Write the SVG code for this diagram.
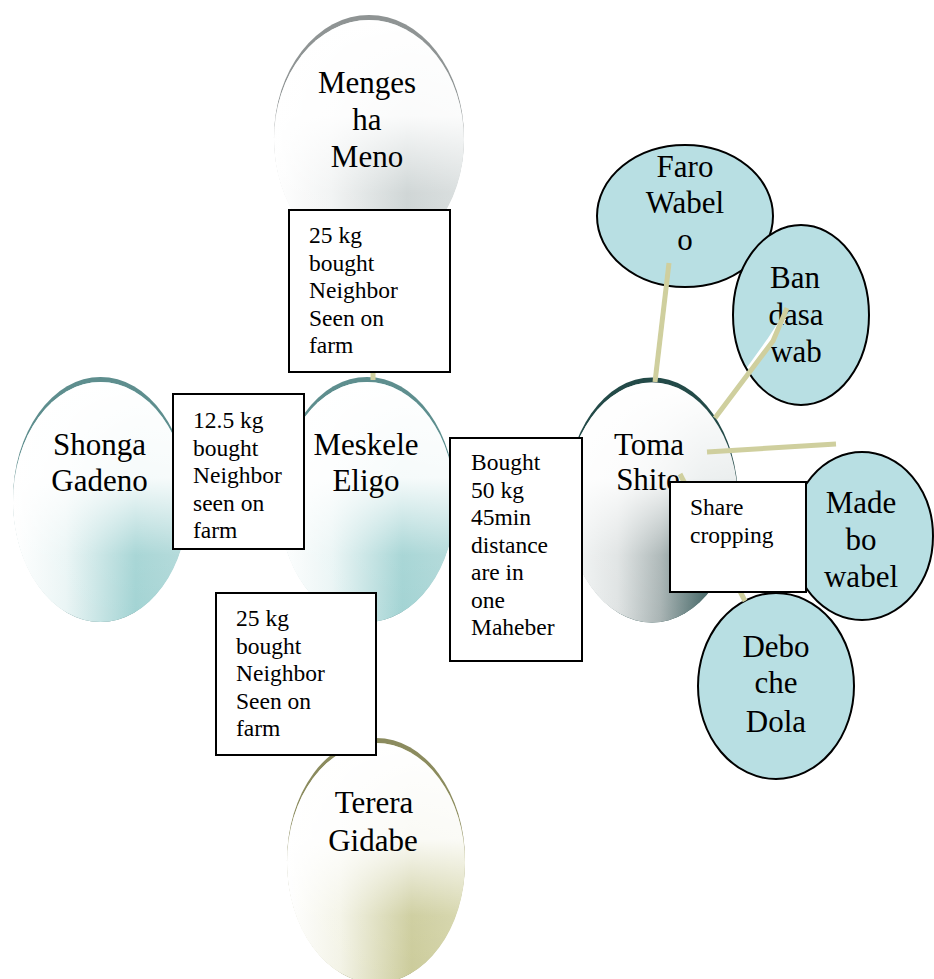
<svg xmlns="http://www.w3.org/2000/svg" width="934" height="979" viewBox="0 0 934 979">
<style>
.lbl{font-family:"Liberation Serif","Times New Roman",serif;font-size:31px;fill:#000;text-anchor:middle}
.box rect{fill:#fff;stroke:#000;stroke-width:2}
.box text{font-family:"Liberation Serif","Times New Roman",serif;font-size:23.5px;fill:#000}
.circ{fill:#b8dfe3;stroke:#000;stroke-width:2}
.con{stroke:#cfcf9e;stroke-width:5;fill:none;stroke-linecap:butt}
.veil{fill:url(#gVeil)}
</style>
<defs>
<linearGradient id="gTeal" x1="0" y1="0" x2="1" y2="0">
<stop offset="0" stop-color="#ffffff"/><stop offset="0.3" stop-color="#eaf5f5"/><stop offset="0.7" stop-color="#a2d3d3"/><stop offset="1" stop-color="#b0d8d8"/>
</linearGradient>
<linearGradient id="gGray" x1="0" y1="0" x2="1" y2="0">
<stop offset="0" stop-color="#ffffff"/><stop offset="0.3" stop-color="#f1f3f3"/><stop offset="0.7" stop-color="#ccd3d3"/><stop offset="1" stop-color="#d8dddd"/>
</linearGradient>
<linearGradient id="gOlive" x1="0" y1="0" x2="1" y2="0">
<stop offset="0" stop-color="#ffffff"/><stop offset="0.3" stop-color="#f3f3e6"/><stop offset="0.7" stop-color="#cbcb9a"/><stop offset="1" stop-color="#d5d5aa"/>
</linearGradient>
<linearGradient id="gDark" x1="0" y1="0" x2="1" y2="0">
<stop offset="0" stop-color="#f6f8f8"/><stop offset="0.3" stop-color="#dfe3e3"/><stop offset="0.55" stop-color="#a9b4b4"/><stop offset="0.8" stop-color="#4c6c6c"/><stop offset="1" stop-color="#365858"/>
</linearGradient>
<linearGradient id="gVeil" x1="0" y1="0" x2="0" y2="1">
<stop offset="0" stop-color="#ffffff" stop-opacity="1"/><stop offset="0.4" stop-color="#ffffff" stop-opacity="0.9"/><stop offset="0.72" stop-color="#ffffff" stop-opacity="0.08"/><stop offset="1" stop-color="#ffffff" stop-opacity="0"/>
</linearGradient>
</defs>

<g id="menges">
<ellipse cx="369" cy="137.5" rx="95" ry="122.5" fill="#8f9494"/>
<ellipse cx="369" cy="140" rx="95" ry="120" fill="url(#gGray)"/>
<ellipse class="veil" cx="369" cy="140" rx="95" ry="120"/>
<text class="lbl" x="367" y="93">Menges</text>
<text class="lbl" x="367" y="130">ha</text>
<text class="lbl" x="367" y="167">Meno</text>
</g>
<g id="shonga">
<ellipse cx="100.5" cy="499.5" rx="87.5" ry="122.5" fill="#5e8e8e"/>
<ellipse cx="100.5" cy="502" rx="87.5" ry="120" fill="url(#gTeal)"/>
<ellipse class="veil" cx="100.5" cy="502" rx="87.5" ry="120"/>
<text class="lbl" x="99.5" y="455">Shonga</text>
<text class="lbl" x="99.5" y="491">Gadeno</text>
</g>
<g id="meskele">
<ellipse cx="367" cy="499.5" rx="88" ry="122.5" fill="#5e8e8e"/>
<ellipse cx="367" cy="502" rx="88" ry="120" fill="url(#gTeal)"/>
<ellipse class="veil" cx="367" cy="502" rx="88" ry="120"/>
<text class="lbl" x="366" y="455">Meskele</text>
<text class="lbl" x="366" y="491">Eligo</text>
</g>
<g id="toma">
<ellipse cx="652" cy="500" rx="86" ry="122.5" fill="#234a48"/>
<ellipse cx="652" cy="502.5" rx="86" ry="120" fill="url(#gDark)"/>
<ellipse class="veil" cx="652" cy="502.5" rx="86" ry="120"/>
<text class="lbl" x="649" y="455">Toma</text>
<text class="lbl" x="648" y="490">Shite</text>
</g>
<g id="terera">
<ellipse cx="376" cy="860.5" rx="89" ry="122.5" fill="#8b8b5e"/>
<ellipse cx="376" cy="863" rx="89" ry="120" fill="url(#gOlive)"/>
<ellipse class="veil" cx="376" cy="863" rx="89" ry="120"/>
<text class="lbl" x="374" y="813">Terera</text>
<text class="lbl" x="373" y="851">Gidabe</text>
</g>

<g id="faro">
<ellipse class="circ" cx="685" cy="216" rx="88" ry="71"/>
<text class="lbl" x="685" y="177">Faro</text>
<text class="lbl" x="685" y="213">Wabel</text>
<text class="lbl" x="685" y="250">o</text>
</g>
<g id="bandasa">
<ellipse class="circ" cx="801" cy="315" rx="68" ry="90"/>
<text class="lbl" x="795" y="288">Ban</text>
<text class="lbl" x="796" y="325">dasa</text>
<text class="lbl" x="796" y="362">wab</text>
</g>
<g id="madebo">
<ellipse class="circ" cx="862" cy="536" rx="71" ry="84"/>
<text class="lbl" x="861" y="513">Made</text>
<text class="lbl" x="861" y="550">bo</text>
<text class="lbl" x="861" y="587">wabel</text>
</g>
<g id="debo">
<ellipse class="circ" cx="776" cy="686" rx="78" ry="93"/>
<text class="lbl" x="776" y="657">Debo</text>
<text class="lbl" x="776" y="693">che</text>
<text class="lbl" x="776" y="732">Dola</text>
</g>

<g id="connectors">
<line class="con" x1="373" y1="250" x2="373" y2="380"/>
<line class="con" x1="372" y1="622" x2="372" y2="742"/>
<line class="con" x1="669" y1="263" x2="655" y2="382"/>
<polyline points="784,318 769,341 749,369" fill="none" stroke="#fff" stroke-width="5"/>
<polyline class="con" points="787,308 773,341 715,418"/>
<line class="con" x1="707" y1="452" x2="836" y2="444"/>
<line class="con" x1="680" y1="474" x2="745" y2="601"/>
</g>

<g id="box-menges" class="box">
<rect x="289" y="210" width="161" height="162"/>
<text x="309" y="243">25 kg</text>
<text x="309" y="270.5">bought</text>
<text x="309" y="298">Neighbor</text>
<text x="309" y="325.5">Seen on</text>
<text x="309" y="353">farm</text>
</g>
<g id="box-shonga" class="box">
<rect x="173" y="394" width="131" height="155"/>
<text x="193" y="428">12.5 kg</text>
<text x="193" y="455.5">bought</text>
<text x="193" y="483">Neighbor</text>
<text x="193" y="510.5">seen on</text>
<text x="193" y="538">farm</text>
</g>
<g id="box-toma" class="box">
<rect x="450" y="438" width="132" height="223"/>
<text x="471" y="470">Bought</text>
<text x="471" y="497.5">50 kg</text>
<text x="471" y="525">45min</text>
<text x="471" y="552.5">distance</text>
<text x="471" y="580">are in</text>
<text x="471" y="607.5">one</text>
<text x="471" y="635">Maheber</text>
</g>
<g id="box-terera" class="box">
<rect x="216" y="593" width="160" height="162"/>
<text x="236" y="626">25 kg</text>
<text x="236" y="653.5">bought</text>
<text x="236" y="681">Neighbor</text>
<text x="236" y="708.5">Seen on</text>
<text x="236" y="736">farm</text>
</g>
<g id="box-share" class="box">
<rect x="670" y="482" width="136" height="110"/>
<text x="690" y="515">Share</text>
<text x="690" y="543">cropping</text>
</g>
</svg>
